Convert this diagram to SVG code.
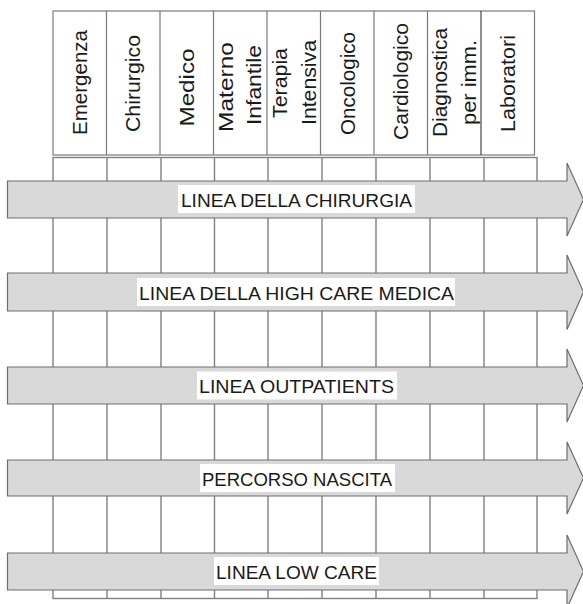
<svg xmlns="http://www.w3.org/2000/svg" width="583" height="604" viewBox="0 0 583 604">
<style>
.bg{fill:#ffffff}
.hdr{fill:none;stroke:#7a7a7a;stroke-width:1.2}
.grid{fill:none;stroke:#808080;stroke-width:1.4}
.arrow{fill:#d9d9d9;stroke:#6e6e6e;stroke-width:1.2}
.lblbox{fill:#ffffff}
.lbl{font-family:"Liberation Sans",Arial,sans-serif;font-size:19px;fill:#1a1a1a}
.col{font-family:"Liberation Sans",Arial,sans-serif;font-size:21px;fill:#1a1a1a;text-anchor:middle}
</style>
<rect class="bg" x="0" y="0" width="583" height="604"/>

<g id="grid">
  <rect class="grid" x="53" y="157.5" width="484" height="441"/>
  <path class="grid" d="M107,157.5V598.5 M161,157.5V598.5 M214.5,157.5V598.5 M268,157.5V598.5 M322,157.5V598.5 M376,157.5V598.5 M430,157.5V598.5 M484,157.5V598.5"/>
</g>

<g id="header">
  <rect class="hdr" x="53" y="11" width="481.5" height="144"/>
  <path class="hdr" d="M106.5,11V155 M160,11V155 M213.5,11V155 M267,11V155 M320.5,11V155 M374,11V155 M427.5,11V155"/>
  <path d="M481,11V155" stroke="#222" stroke-width="1" fill="none"/>
</g>

<g id="col-emergenza"><text class="col" transform="translate(87,82.5) rotate(-90)" textLength="105" lengthAdjust="spacingAndGlyphs">Emergenza</text></g>
<g id="col-chirurgico"><text class="col" transform="translate(140,83.5) rotate(-90)" textLength="97" lengthAdjust="spacingAndGlyphs">Chirurgico</text></g>
<g id="col-medico"><text class="col" transform="translate(194,87.5) rotate(-90)" textLength="78" lengthAdjust="spacingAndGlyphs">Medico</text></g>
<g id="col-materno">
  <text class="col" transform="translate(233,87) rotate(-90)" textLength="90" lengthAdjust="spacingAndGlyphs">Materno</text>
  <text class="col" transform="translate(261,85) rotate(-90)" textLength="80" lengthAdjust="spacingAndGlyphs">Infantile</text>
</g>
<g id="col-terapia">
  <text class="col" transform="translate(287,83) rotate(-90)" textLength="70" lengthAdjust="spacingAndGlyphs">Terapia</text>
  <text class="col" transform="translate(316,82.5) rotate(-90)" textLength="85" lengthAdjust="spacingAndGlyphs">Intensiva</text>
</g>
<g id="col-oncologico"><text class="col" transform="translate(355,83.5) rotate(-90)" textLength="103" lengthAdjust="spacingAndGlyphs">Oncologico</text></g>
<g id="col-cardiologico"><text class="col" transform="translate(407.5,81.5) rotate(-90)" textLength="117" lengthAdjust="spacingAndGlyphs">Cardiologico</text></g>
<g id="col-diagnostica">
  <text class="col" transform="translate(447,82.5) rotate(-90)" textLength="109" lengthAdjust="spacingAndGlyphs">Diagnostica</text>
  <text class="col" transform="translate(476,82.5) rotate(-90)" textLength="85" lengthAdjust="spacingAndGlyphs">per imm.</text>
</g>
<g id="col-laboratori"><text class="col" transform="translate(515,83.5) rotate(-90)" textLength="97" lengthAdjust="spacingAndGlyphs">Laboratori</text></g>

<g id="arrow-chirurgia">
  <polygon class="arrow" points="7.5,181 567,181 567,163 583.5,199.5 567,236 567,218 7.5,218"/>
  <rect class="lblbox" x="178" y="185" width="237" height="28"/>
  <text class="lbl" x="181" y="206.5" textLength="231" lengthAdjust="spacingAndGlyphs">LINEA DELLA CHIRURGIA</text>
</g>
<g id="arrow-highcare">
  <polygon class="arrow" points="7.5,273 567,273 567,255 583.5,292 567,329.5 567,311 7.5,311"/>
  <rect class="lblbox" x="137" y="278" width="318" height="28"/>
  <text class="lbl" x="139" y="299.5" textLength="315" lengthAdjust="spacingAndGlyphs">LINEA DELLA HIGH CARE MEDICA</text>
</g>
<g id="arrow-outpatients">
  <polygon class="arrow" points="7.5,367 567,367 567,349 583.5,385.5 567,422 567,404 7.5,404"/>
  <rect class="lblbox" x="197" y="371.5" width="200" height="28"/>
  <text class="lbl" x="199" y="393" textLength="195" lengthAdjust="spacingAndGlyphs">LINEA OUTPATIENTS</text>
</g>
<g id="arrow-nascita">
  <polygon class="arrow" points="7.5,460 567,460 567,442 583.5,478 567,514 567,496 7.5,496"/>
  <rect class="lblbox" x="200" y="464" width="195" height="28"/>
  <text class="lbl" x="202" y="485.5" textLength="190" lengthAdjust="spacingAndGlyphs">PERCORSO NASCITA</text>
</g>
<g id="arrow-lowcare">
  <polygon class="arrow" points="7.5,553 567,553 567,535 583.5,571.5 567,608 567,590 7.5,590"/>
  <rect class="lblbox" x="214" y="557" width="165" height="28"/>
  <text class="lbl" x="216" y="579" textLength="161" lengthAdjust="spacingAndGlyphs">LINEA LOW CARE</text>
</g>
</svg>
